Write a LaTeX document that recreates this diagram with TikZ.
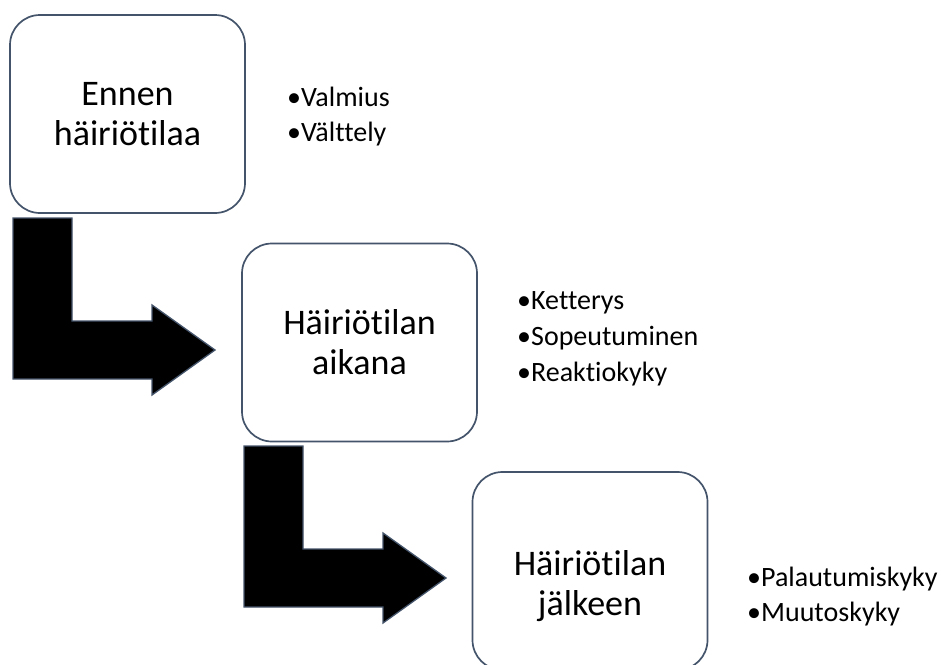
\documentclass[tikz,border=0pt]{standalone}
\usepackage{fontspec}
\setmainfont{Carlito}[Ligatures=NoCommon]
\definecolor{edge}{HTML}{44546A}
\tikzset{
  stagebox/.style={draw=edge, line width=1.7pt, rounded corners=30pt, fill=white,
    minimum width=235pt, minimum height=198pt, inner sep=0pt, align=center,
    font=\fontsize{36}{40}\selectfont},
  boxtext/.style={inner sep=0pt, align=center, font=\fontsize{36}{40}\selectfont},
  bullets/.style={anchor=base west, inner sep=0pt, align=left,
    font=\fontsize{28}{35}\selectfont},
  bentarrow/.pic={
    \path[fill=black, draw=edge, line width=1.3pt, line join=miter]
      (0,0) -- (59,0) -- (59,103) -- (139,103) -- (139,87) -- (202,132)
      -- (139,177) -- (139,161) -- (0,161) -- cycle;
  }
}
\begin{document}
\begin{tikzpicture}[x=1pt, y=-1pt]
\useasboundingbox (0,0) rectangle (941,664);
\clip (0,0) rectangle (941,664);
\fill[white] (0,0) rectangle (941,664);

\node[stagebox] (b1) at (127.5,114) {Ennen\\häiriötilaa};
\node[stagebox] (b2) at (359.5,342.5) {Häiriötilan\\aikana};
\node[stagebox] (b3) at (590,571) {};
\node[boxtext] (t3) at ([yshift=-15pt]b3.center) {Häiriötilan\\jälkeen};

\pic at (13,218) {bentarrow};
\pic at (244,446) {bentarrow};

\node[bullets] (l1) at (287,141) {•Valmius\\•Välttely};
\node[bullets, font=\fontsize{28}{36}\selectfont] (l2) at (517,381) {•Ketterys\\•Sopeutuminen\\•Reaktiokyky};
\node[bullets] (l3) at (747,621) {•Palautumiskyky\\•Muutoskyky};
\end{tikzpicture}
\end{document}
